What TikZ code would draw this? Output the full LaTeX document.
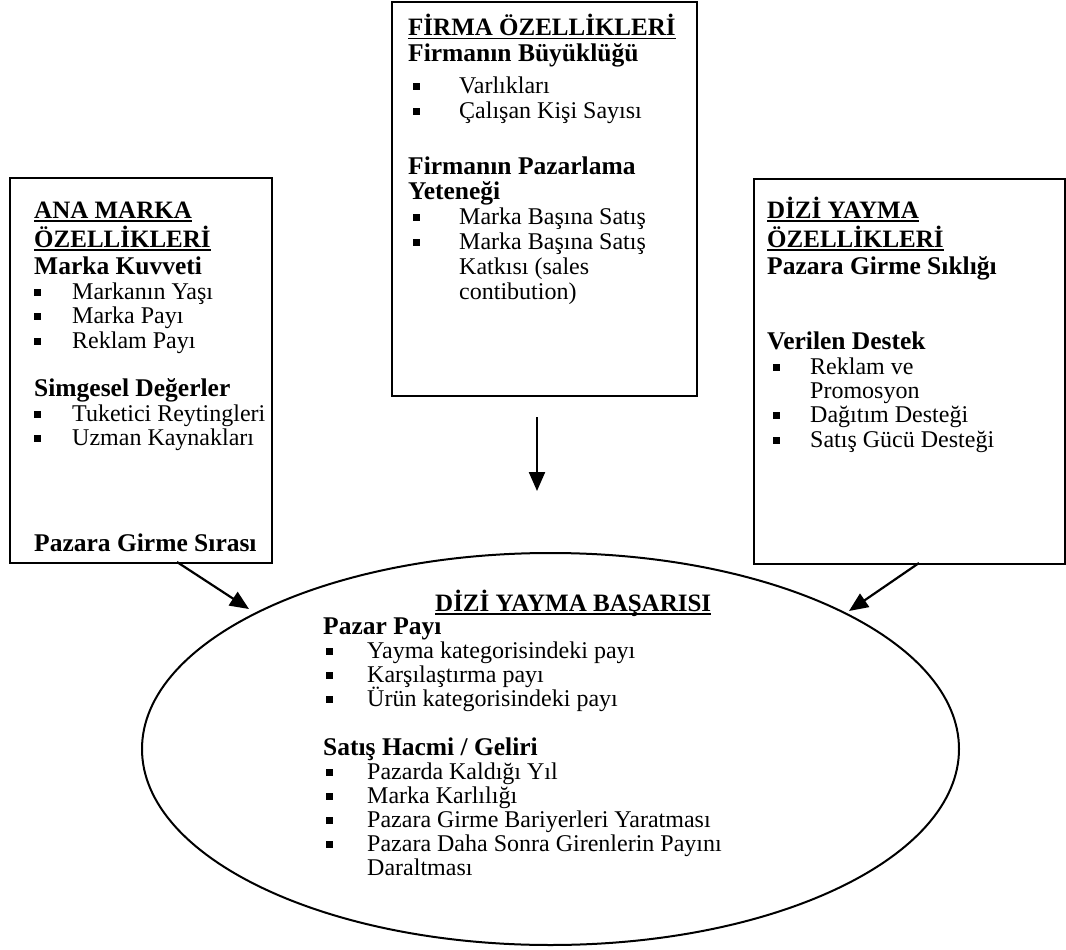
\documentclass[tikz,border=0pt]{standalone}
\usepackage{fontspec}
\setmainfont{Liberation Serif}
\usetikzlibrary{shapes.geometric,arrows.meta}
\newcommand{\bsq}{\rule[3pt]{6.5pt}{7pt}}
\newcommand{\ttl}[1]{\setbox0\hbox{#1}\rlap{\rule[-3.5pt]{\wd0}{1.7pt}}\box0}
\tikzset{
  box/.style={draw, line width=2pt, rectangle, inner sep=0pt, anchor=north west},
  oval/.style={draw, line width=2pt, ellipse, inner sep=0pt},
  tx/.style={anchor=base west, inner sep=0pt, font=\fontsize{24}{26}\selectfont},
  hd/.style={tx, font=\fontsize{25.5}{27}\selectfont\bfseries},
  tt/.style={tx, font=\fontsize{25}{27}\selectfont\bfseries},
  bt/.style={anchor=base west, inner sep=0pt},
  arr/.style={line width=2.2pt, -{Triangle[length=19pt,width=16pt]}}
}
\newcommand{\itm}[5]{\node[bt] (#1b) at (#2,#3) {\bsq}; \node[tx] (#1) at (#4,#3) {#5};}
\begin{document}
\begin{tikzpicture}[x=1pt,y=-1pt]
\useasboundingbox (0,0) rectangle (1066,950);
% boxes
\node[box, minimum width=305pt, minimum height=394pt] (firma) at (391,1) {};
\node[box, minimum width=262pt, minimum height=385pt] (ana) at (9,177) {};
\node[box, minimum width=311pt, minimum height=385pt] (dizi) at (753,178) {};
\node[oval, minimum width=817pt, minimum height=392pt] (basari) at (550.5,749) {};
% top box text
\node[tt] (f0) at (408,36) {\ttl{FİRMA ÖZELLİKLERİ}};
\node[hd] (f1) at (408,62) {Firmanın Büyüklüğü};
\itm{f2}{413}{93}{459}{Varlıkları}
\itm{f3}{413}{118}{459}{Çalışan Kişi Sayısı}
\node[hd] (f4) at (408,174) {Firmanın Pazarlama};
\node[hd] (f5) at (408,199) {Yeteneği};
\itm{f6}{413}{224}{459}{Marka Başına Satış}
\itm{f7}{413}{249}{459}{Marka Başına Satış}
\node[tx] (f8) at (459,274) {Katkısı (sales};
\node[tx] (f9) at (459,299) {contibution)};
% left box text
\node[tt] (a0) at (34,218) {\ttl{ANA MARKA}};
\node[tt] (a1) at (34,247) {\ttl{ÖZELLİKLERİ}};
\node[hd] (a2) at (34,274) {Marka Kuvveti};
\itm{a3}{34}{299}{72}{Markanın Yaşı}
\itm{a4}{34}{323}{72}{Marka Payı}
\itm{a5}{34}{348}{72}{Reklam Payı}
\node[hd] (a6) at (34,396) {Simgesel Değerler};
\itm{a7}{34}{421}{72}{Tuketici Reytingleri}
\itm{a8}{34}{445}{72}{Uzman Kaynakları}
\node[hd] (a9) at (34,551) {Pazara Girme Sırası};
% right box text
\node[tt] (d0) at (767,218) {\ttl{DİZİ YAYMA}};
\node[tt] (d1) at (767,247) {\ttl{ÖZELLİKLERİ}};
\node[hd] (d2) at (767,274) {Pazara Girme Sıklığı};
\node[hd] (d3) at (767,349) {Verilen Destek};
\itm{d4}{773}{374}{810}{Reklam ve}
\node[tx] (d5) at (810,398) {Promosyon};
\itm{d6}{773}{422}{810}{Dağıtım Desteği}
\itm{d7}{773}{447}{810}{Satış Gücü Desteği}
% ellipse text
\node[tt] (e0) at (435,611) {\ttl{DİZİ YAYMA BAŞARISI}};
\node[hd] (e1) at (323,634) {Pazar Payı};
\itm{e2}{326}{658}{367}{Yayma kategorisindeki payı}
\itm{e3}{326}{682}{367}{Karşılaştırma payı}
\itm{e4}{326}{706}{367}{Ürün kategorisindeki payı}
\node[hd] (e5) at (323,755) {Satış Hacmi / Geliri};
\itm{e6}{326}{779}{367}{Pazarda Kaldığı Yıl}
\itm{e7}{326}{803}{367}{Marka Karlılığı}
\itm{e8}{326}{827}{367}{Pazara Girme Bariyerleri Yaratması}
\itm{e9}{326}{851}{367}{Pazara Daha Sonra Girenlerin Payını}
\node[tx] (e10) at (367,875) {Daraltması};
% arrows
\coordinate (c1s) at (537,417);
\coordinate (c1e) at (537,491);
\coordinate (c2s) at (177,562);
\coordinate (c2e) at (249,609);
\coordinate (c3s) at (919,563);
\coordinate (c3e) at (849,611);
\draw[arr] (c1s) -- (c1e);
\draw[arr] (c2s) -- (c2e);
\draw[arr] (c3s) -- (c3e);
\end{tikzpicture}
\end{document}
